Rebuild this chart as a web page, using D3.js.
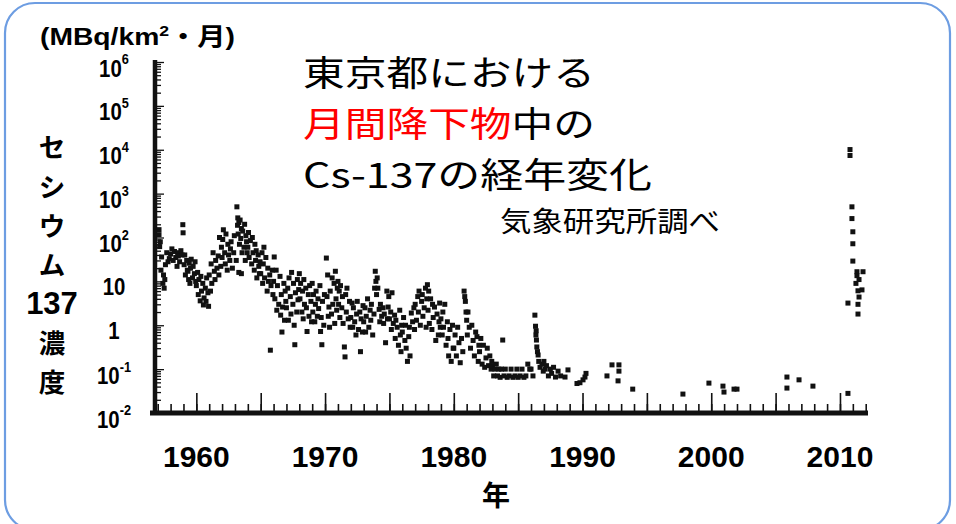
<!DOCTYPE html>
<html><head><meta charset="utf-8">
<script src="https://cdn.jsdelivr.net/npm/d3@7/dist/d3.min.js"></script>
<style>body{margin:0;background:#fff}svg{display:block}</style>
</head><body>
<svg id="chart" width="956" height="524"></svg>
<script>
// ---------- data ----------
const xLabelYears = [1960, 1970, 1980, 1990, 2000, 2010];
const yDecadePowers = [6, 5, 4, 3, 2, 1, 0, -1, -2];
const unitText = ["(MBq/km", "2", "・月)"];
const yTitleParts = ["セ", "シ", "ウ", "ム", "137", "濃", "度"];
const titleLine1 = "東京都における";
const titleLine2Red = "月間降下物";
const titleLine2Black = "中の";
const titleLine3 = "Cs-137の経年変化";
const sourceText = "気象研究所調べ";
const xTitle = "年";

// [year, MBq/km2 per month]
const fallout1957to1964 = [
[1957.1,151],[1957.1,116],[1957.15,62],[1957.2,80],[1957.25,18],[1957.3,36],[1957.4,9],[1957.45,14],[1957.5,7],[1957.55,11],[1957.6,24],[1957.7,45],[1957.8,28],[1957.9,33],
[1958.0,42],[1958.1,55],[1958.2,30],[1958.3,48],[1958.4,35],[1958.5,22],[1958.55,45],[1958.6,38],[1958.7,28],[1958.8,50],[1958.9,40],[1958.95,196],[1958.97,128],
[1959.05,24],[1959.1,40],[1959.15,14],[1959.25,30],[1959.3,18],[1959.35,17],[1959.4,11],[1959.45,26],[1959.5,9],[1959.55,20],[1959.6,32],[1959.7,12],[1959.75,22],[1959.85,15],[1959.9,28],[1959.95,10],
[1960.0,8],[1960.1,16],[1960.15,5],[1960.2,11],[1960.3,3.6],[1960.35,13],[1960.4,6],[1960.5,9],[1960.55,2.9],[1960.6,4.2],[1960.7,7],[1960.75,3.5],[1960.8,12],[1960.9,5.5],[1960.95,2.7],
[1961.0,14],[1961.1,6],[1961.15,25],[1961.2,9],[1961.3,45],[1961.4,17],[1961.45,11],[1961.5,30],[1961.6,20],[1961.7,38],[1961.75,14],[1961.8,100],[1961.9,22],[1961.95,60],
[1962.0,35],[1962.05,90],[1962.1,150],[1962.2,45],[1962.25,25],[1962.3,120],[1962.4,18],[1962.45,70],[1962.5,40],[1962.6,30],[1962.65,55],[1962.7,80],[1962.8,20],[1962.9,45],[1962.95,110],
[1963.1,30],[1963.15,500],[1963.2,190],[1963.22,280],[1963.25,120],[1963.3,220],[1963.3,16],[1963.35,70],[1963.4,250],[1963.45,95],[1963.5,160],[1963.5,15],[1963.55,45],[1963.6,140],[1963.7,60],[1963.75,200],[1963.8,30],[1963.85,110],[1963.9,80],[1963.95,45],
[1964.0,60],[1964.05,130],[1964.1,35],[1964.2,85],[1964.3,25],[1964.35,100],[1964.4,45],[1964.5,18],[1964.55,70],[1964.6,30],[1964.65,50],[1964.7,12],[1964.8,40],[1964.85,22],[1964.9,15],[1964.95,28]
];
const fallout1965to1974 = [
[1965.0,15],[1965.1,45],[1965.15,9],[1965.2,25],[1965.25,60],[1965.3,12],[1965.4,35],[1965.5,6],[1965.55,20],[1965.6,10],[1965.7,14],[1965.75,0.27],[1965.8,8],[1965.9,18],[1965.95,5],
[1966.0,10],[1966.05,36],[1966.1,4],[1966.2,18],[1966.25,2.2],[1966.3,8],[1966.4,3],[1966.5,13],[1966.55,1.7],[1966.6,5],[1966.65,0.7],[1966.7,2.6],[1966.8,9],[1966.85,1.3],[1966.9,6],[1966.95,3.5],
[1967.0,2.5],[1967.1,7],[1967.15,1.3],[1967.2,12],[1967.3,4.5],[1967.35,1.8],[1967.4,16],[1967.5,3],[1967.55,9],[1967.6,1.0],[1967.65,0.36],[1967.7,5.5],[1967.8,2],[1967.85,11],[1967.9,3.8],[1967.95,6.5],
[1968.0,15],[1968.05,4],[1968.1,9],[1968.2,2],[1968.25,6],[1968.3,1.4],[1968.35,11],[1968.4,3],[1968.5,7],[1968.55,2.5],[1968.6,0.72],[1968.7,5],[1968.75,1.6],[1968.8,8],[1968.9,3.5],[1968.95,1.2],
[1969.0,9],[1969.05,2],[1969.1,5],[1969.2,1.2],[1969.25,3],[1969.3,6],[1969.4,1.6],[1969.45,4],[1969.5,2.4],[1969.6,8],[1969.65,0.72],[1969.7,1.5],[1969.75,0.36],[1969.8,3.5],[1969.9,1.0],[1969.95,5],
[1970.1,34],[1970.15,4.5],[1970.2,14],[1970.25,1.6],[1970.3,2.6],[1970.35,0.9],[1970.4,6],[1970.5,1.8],[1970.55,12],[1970.6,3],[1970.7,9],[1970.75,1.1],[1970.8,17],[1970.85,4],[1970.9,2.2],[1970.95,7],
[1971.0,10],[1971.05,3],[1971.1,6],[1971.15,1.5],[1971.2,8],[1971.3,2.5],[1971.35,4.5],[1971.4,1.1],[1971.5,0.32],[1971.55,0.19],[1971.6,5],[1971.65,2],[1971.7,7],[1971.8,1.4],[1971.9,3.5],[1971.95,0.9],
[1972.0,1.5],[1972.1,3.2],[1972.15,0.9],[1972.2,2.5],[1972.3,1.2],[1972.4,0.6],[1972.45,1.8],[1972.5,3.5],[1972.6,0.8],[1972.7,2],[1972.75,0.25],[1972.8,1.4],[1972.9,0.7],[1972.95,2.8],
[1973.0,1.2],[1973.1,2.5],[1973.15,0.7],[1973.2,1.6],[1973.3,4],[1973.4,0.9],[1973.5,2.2],[1973.55,1.3],[1973.6,3],[1973.7,0.6],[1973.8,1.8],[1973.85,7],[1973.9,17],[1973.95,10],
[1974.0,5],[1974.05,12],[1974.1,7],[1974.2,2.3],[1974.25,1.2],[1974.3,3],[1974.4,1.6],[1974.5,2.5],[1974.55,1.1],[1974.6,1.8],[1974.7,0.4],[1974.8,6],[1974.85,1.4],[1974.9,2.6],[1974.95,4.5]
];
const fallout1975to1989 = [
[1975.0,1.4],[1975.1,2],[1975.15,0.8],[1975.2,5.5],[1975.3,1.1],[1975.4,1.7],[1975.45,0.5],[1975.5,1.3],[1975.6,0.9],[1975.7,0.35],[1975.8,2.2],[1975.85,0.6],[1975.9,0.25],[1975.95,1.0],
[1976.0,0.7],[1976.1,1.5],[1976.2,0.45],[1976.25,1.0],[1976.3,0.3],[1976.4,0.15],[1976.5,0.55],[1976.55,0.9],[1976.6,0.2],[1976.7,1.9],[1976.8,1.2],[1976.9,2.5],[1976.95,0.8],
[1977.0,3],[1977.1,1.3],[1977.2,4.5],[1977.25,2],[1977.3,6],[1977.4,1],[1977.5,3.5],[1977.55,5],[1977.6,1.6],[1977.7,2.5],[1977.8,7],[1977.85,0.9],[1977.9,4],[1977.95,8.4],
[1978.0,2.2],[1978.05,6],[1978.1,1.1],[1978.2,4],[1978.3,0.8],[1978.35,3],[1978.4,1.5],[1978.5,2.6],[1978.6,0.45],[1978.7,1.8],[1978.8,0.6],[1978.85,1.2],[1978.9,3.2],[1978.95,0.9],
[1979.0,1.4],[1979.1,0.6],[1979.15,2],[1979.2,0.9],[1979.3,3],[1979.4,0.35],[1979.5,1.2],[1979.55,0.5],[1979.6,0.2],[1979.7,0.8],[1979.8,0.15],[1979.9,1.0],[1979.95,0.3],
[1980.0,0.3],[1980.1,0.6],[1980.2,0.2],[1980.3,0.9],[1980.4,0.4],[1980.5,0.14],[1980.6,0.5],[1980.7,0.25],[1980.8,6],[1980.85,4.5],[1980.9,3.5],[1980.95,2],
[1981.0,1.3],[1981.05,0.6],[1981.1,2],[1981.2,0.9],[1981.3,0.3],[1981.4,1],[1981.5,0.45],[1981.6,0.2],[1981.7,0.7],[1981.8,0.55],[1981.9,0.15],[1981.95,0.35],
[1982.0,0.25],[1982.1,0.5],[1982.2,0.13],[1982.3,0.35],[1982.4,0.11],[1982.5,0.18],[1982.6,0.3],[1982.7,0.12],[1982.8,0.2],[1982.9,0.1],[1982.95,0.15],
[1983.0,0.12],[1983.1,0.07],[1983.2,0.1],[1983.3,0.13],[1983.4,0.07],[1983.5,0.1],[1983.6,0.065],[1983.7,0.1],[1983.8,0.46],[1983.9,0.07],
[1984.0,0.1],[1984.15,0.065],[1984.3,0.07],[1984.45,0.1],[1984.6,0.065],[1984.75,0.07],[1984.9,0.1],
[1985.0,0.065],[1985.15,0.07],[1985.3,0.1],[1985.45,0.065],[1985.6,0.07],[1985.75,0.13],[1985.9,0.1],
[1986.0,0.1],[1986.15,0.07],[1986.3,1.7],[1986.35,0.95],[1986.38,0.6],[1986.4,0.75],[1986.42,0.46],[1986.45,0.32],[1986.5,0.25],[1986.55,0.21],[1986.6,0.15],[1986.7,0.11],[1986.85,0.13],[1986.95,0.09],
[1987.0,0.15],[1987.1,0.1],[1987.2,0.12],[1987.35,0.07],[1987.5,0.1],[1987.6,0.08],[1987.75,0.11],[1987.9,0.066],
[1988.1,0.09],[1988.3,0.07],[1988.64,0.066],[1988.87,0.096],
[1989.57,0.047],[1989.8,0.049]
];
const fallout1990to2011 = [
[1990.04,0.057],[1990.19,0.066],[1990.27,0.08],
[1991.9,0.07],[1992.29,0.125],[1992.83,0.125],[1992.83,0.09],[1992.76,0.054],[1993.9,0.035],
[1997.8,0.027],
[1999.82,0.048],[2000.91,0.041],[2000.99,0.03],[2001.77,0.035],[2002.0,0.035],
[2005.88,0.066],[2005.88,0.037],[2006.82,0.057],[2007.9,0.041],
[2010.62,0.028],
[2010.78,10100],[2010.78,7400],
[2010.93,500],[2010.93,270],[2011.0,135],[2011.0,72],[2011.0,29],[2011.32,16.6],[2011.79,16.6],[2011.32,13.5],[2011.48,11],[2011.24,9],[2011.4,6.1],[2011.71,6.4],[2011.48,4.4],[2010.62,3.2],[2011.4,3.0],[2011.4,1.8]
];

// ---------- drawing ----------
const svg = d3.select("#chart");
const ink = "#111";

svg.append("rect").attr("x",5).attr("y",3).attr("width",945).attr("height",527)
  .attr("rx",30).attr("fill","#fff").attr("stroke","#6d9de2").attr("stroke-width",2.2);

const x = d3.scaleLinear().domain([1956.4, 2012.1]).range([150, 867]);
const y = d3.scaleLog().domain([0.01, 1e6]).range([413, 62]);

// y axis ticks (inside, right side)
const minorY = [];
for (let p = -2; p < 6; p++) for (let m = 2; m <= 9; m++) minorY.push(m * Math.pow(10, p));
const gyMinor = svg.append("g").attr("transform","translate(157,0)")
  .call(d3.axisRight(y).tickValues(minorY).tickSize(4).tickFormat(""));
const gyMajor = svg.append("g").attr("transform","translate(157,0)")
  .call(d3.axisRight(y).tickValues(yDecadePowers.map(p=>Math.pow(10,p))).tickSize(7).tickFormat(""));
[gyMinor, gyMajor].forEach(g => { g.select(".domain").remove(); g.selectAll("line").attr("stroke",ink).attr("stroke-width",1.3); });

// x axis ticks (pointing up)
const gxMinor = svg.append("g").attr("transform","translate(0,411)")
  .call(d3.axisBottom(x).tickValues(d3.range(1957, 2013)).tickSize(-7).tickFormat(""));
const gxMajor = svg.append("g").attr("transform","translate(0,411)")
  .call(d3.axisBottom(x).tickValues(d3.range(1960, 2011, 5)).tickSize(-18).tickFormat(""));
[gxMinor, gxMajor].forEach(g => { g.select(".domain").remove(); g.selectAll("line").attr("stroke",ink).attr("stroke-width",1.6); });

// axis lines
svg.append("line").attr("x1",155).attr("x2",155).attr("y1",60).attr("y2",415)
  .attr("stroke",ink).attr("stroke-width",4.5);
svg.append("line").attr("x1",150).attr("x2",868).attr("y1",413).attr("y2",413)
  .attr("stroke",ink).attr("stroke-width",5);

// points
const allPoints = [].concat(fallout1957to1964, fallout1965to1974, fallout1975to1989, fallout1990to2011);
const S = 5;
svg.append("g").selectAll("rect").data(allPoints).join("rect")
  .attr("x", d => x(d[0]) - S/2).attr("y", d => y(d[1]) - S/2)
  .attr("width", S).attr("height", S).attr("fill", ink);

// x labels
svg.append("g").selectAll("text").data(xLabelYears).join("text")
  .attr("x", d => x(d)).attr("y", 467).attr("text-anchor","middle")
  .attr("font-family","Liberation Sans, Arial, sans-serif").attr("font-weight","bold")
  .attr("font-size",30).attr("fill","#000").text(d => d);

svg.append("text").attr("x",496).attr("y",494).attr("dominant-baseline","central")
  .attr("text-anchor","middle").attr("font-family","Noto Sans CJK JP, sans-serif")
  .attr("font-weight","bold").attr("font-size",28).attr("fill","#000").text(xTitle);

// y labels
const yl = svg.append("g").selectAll("g").data(yDecadePowers).join("g")
  .attr("transform", p => `translate(114,${y(Math.pow(10,p)) + 6}) scale(0.85,1)`);
yl.each(function(p){
  const t = d3.select(this).append("text").attr("text-anchor","middle").attr("dominant-baseline","central")
    .attr("font-family","Liberation Sans, Arial, sans-serif").attr("font-weight","bold")
    .attr("font-size",24).attr("fill","#000");
  if (p === 0) t.text("1");
  else if (p === 1) t.text("10");
  else {
    t.append("tspan").text("10");
    t.append("tspan").attr("font-size",15).attr("dy",-9).text(String(p));
  }
});

// units
const ut = svg.append("text").attr("x",40).attr("y",45)
  .attr("font-family","Liberation Sans, Arial, Noto Sans CJK JP, sans-serif").attr("font-weight","bold")
  .attr("font-size",24).attr("fill","#000").attr("textLength",195).attr("lengthAdjust","spacingAndGlyphs");
ut.append("tspan").text(unitText[0]);
ut.append("tspan").attr("font-size",15).attr("dy",-9).text(unitText[1]);
ut.append("tspan").attr("dy",9).text(unitText[2]);

// vertical y title, one line per part
const yTitleY = [145, 185, 224, 263, 303, 341, 380];
svg.append("g").selectAll("text").data(yTitleParts).join("text")
  .attr("x",52).attr("y",(d,i)=>yTitleY[i]).attr("text-anchor","middle").attr("dominant-baseline","central")
  .attr("font-family", d => /\d/.test(d) ? "Liberation Sans, Arial, sans-serif" : "Noto Sans CJK JP, sans-serif")
  .attr("font-weight","bold").attr("font-size", d => /\d/.test(d) ? 31 : 26.5).attr("fill","#000").text(d=>d);

// title
const tf = "Noto Sans CJK JP, sans-serif";
svg.append("text").attr("x",303).attr("y",70).attr("dominant-baseline","central")
  .attr("font-family",tf).attr("font-size",35).attr("fill","#000")
  .attr("textLength",292).attr("lengthAdjust","spacingAndGlyphs").text(titleLine1);
const t2 = svg.append("text").attr("x",303).attr("y",121).attr("dominant-baseline","central")
  .attr("font-family",tf).attr("font-size",35)
  .attr("textLength",292).attr("lengthAdjust","spacingAndGlyphs");
t2.append("tspan").attr("fill","#ff0000").text(titleLine2Red);
t2.append("tspan").attr("fill","#000").text(titleLine2Black);
svg.append("text").attr("x",303).attr("y",172).attr("dominant-baseline","central")
  .attr("font-family",tf).attr("font-size",35).attr("fill","#000")
  .attr("textLength",349).attr("lengthAdjust","spacingAndGlyphs").text(titleLine3);
svg.append("text").attr("x",500).attr("y",220).attr("dominant-baseline","central")
  .attr("font-family",tf).attr("font-size",28).attr("fill","#000")
  .attr("textLength",220).attr("lengthAdjust","spacingAndGlyphs").text(sourceText);
</script>
</body></html>
